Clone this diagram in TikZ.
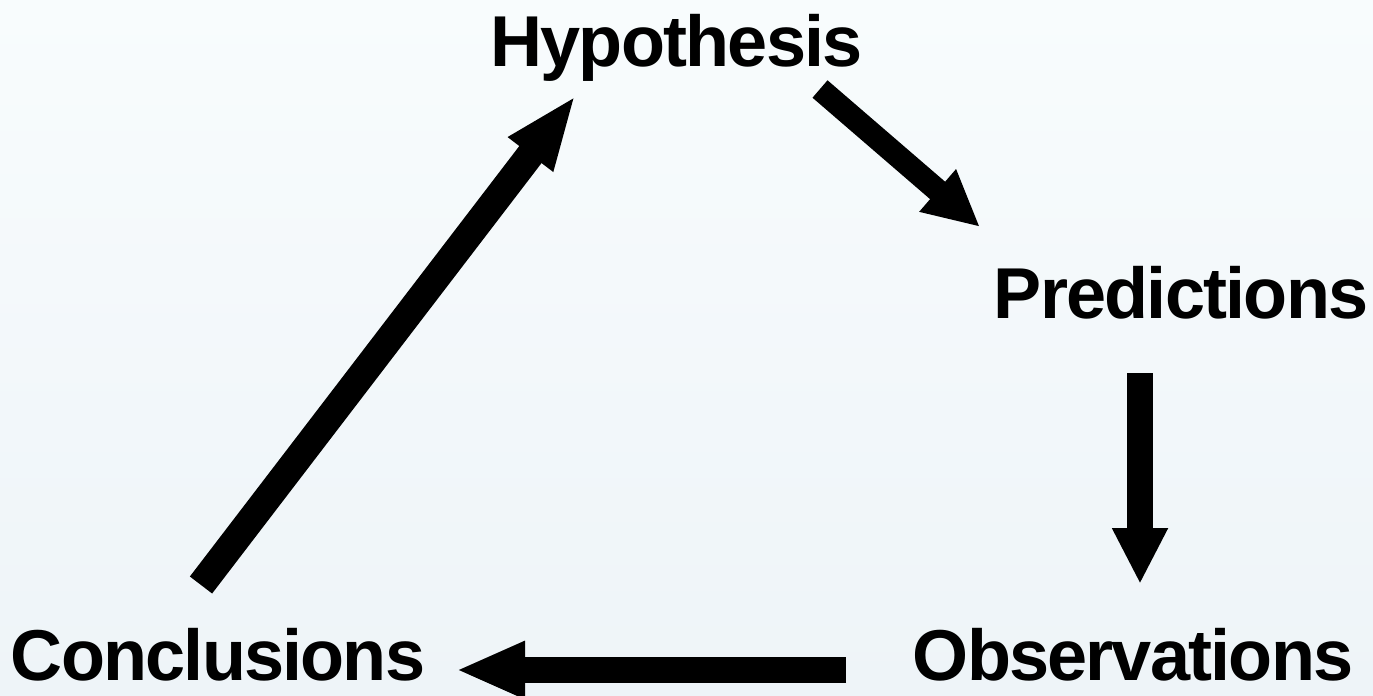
\documentclass[tikz,border=0pt]{standalone}
\usepackage{fontspec}
\setmainfont{Liberation Sans}
\usetikzlibrary{arrows.meta}
\definecolor{bgtop}{RGB}{248,252,253}
\definecolor{bgbot}{RGB}{238,244,248}
\tikzset{
  stagename/.style={anchor=base,inner sep=0pt,font=\bfseries\fontsize{41}{49}\selectfont\addfontfeatures{LetterSpace=-2.5}},
  flow/.style={line width=0.52cm,-{Triangle[width=1.04cm,length=1.12cm]}}
}
\begin{document}
\begin{tikzpicture}
        \shade[top color=bgtop,bottom color=bgbot] (0,0) rectangle (27.46,13.9); %背景
        \useasboundingbox (0,0) rectangle (27.46,13.9);
        \node[stagename] (hyp) at (13.53,12.56) {Hypothesis};
        \node[stagename] (pred) at (23.62,7.54) {Predictions};
        \node[stagename] (obs) at (22.66,0.30) {Observations};
        \node[stagename] (conc) at (4.36,0.30) {Conclusions};
        \coordinate (hyp-out) at (16.4,12.12);
        \coordinate (pred-in) at (19.6,9.36);
        \coordinate (pred-out) at (22.8,6.44);
        \coordinate (obs-in) at (22.8,2.22);
        \coordinate (obs-out) at (16.92,0.5);
        \coordinate (conc-in) at (9.12,0.5);
        \coordinate (conc-out) at (4.02,2.2);
        \coordinate (hyp-in) at (11.52,12.0);
        \draw[flow,line width=0.46cm] (hyp-out)--(pred-in); %予測へ
        \draw[flow] (pred-out)--(obs-in); %観察へ
        \draw[flow,-{Triangle[width=1.06cm,length=1.38cm]}] (obs-out)--(conc-in); %結論へ
        \draw[flow,line width=0.56cm,-{Triangle[width=1.02cm,length=1.5cm]}] (conc-out)--(hyp-in); %仮説へ
    \end{tikzpicture}
\end{document}
